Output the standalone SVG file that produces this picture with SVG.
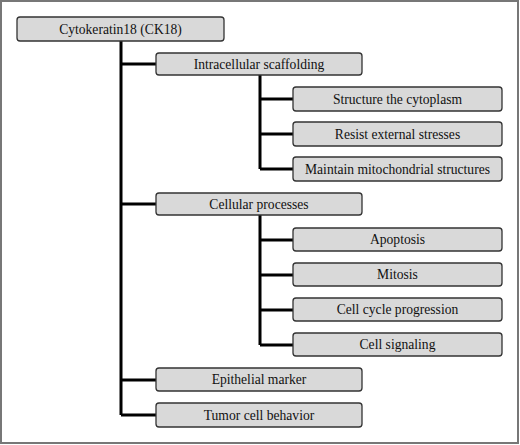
<svg xmlns="http://www.w3.org/2000/svg" width="520" height="445" viewBox="0 0 520 445">
<style>
.box{fill:#d9d9d9;stroke:#333;stroke-width:1.3}
.t{font-family:"Liberation Serif","Times New Roman",serif;font-size:13.6px;fill:#111;text-anchor:middle;dominant-baseline:central}
.c{stroke:#000;stroke-width:3;fill:none}
</style>
<rect x="0" y="0" width="520" height="445" fill="#fff"/>
<rect x="1" y="1" width="517" height="442" fill="none" stroke="#777" stroke-width="2"/>
<g id="connectors">
<path class="c" d="M121 41V415M121 64H156M121 204H156M121 380H156M121 415H156"/>
<path class="c" d="M260 75V169M260 99H293M260 134H293M260 169H293"/>
<path class="c" d="M260 215V345M260 240H293M260 275H293M260 310H293M260 345H293"/>
</g>
<g id="n-root"><rect class="box" x="17" y="17" width="207" height="24" rx="3"/><text class="t" x="120.5" y="29">Cytokeratin18 (CK18)</text></g>
<g id="n-scaffold"><rect class="box" x="156" y="53" width="206" height="22" rx="3"/><text class="t" x="259" y="64">Intracellular scaffolding</text></g>
<g id="n-structure"><rect class="box" x="293" y="87" width="209" height="24" rx="3"/><text class="t" x="397.5" y="99">Structure the cytoplasm</text></g>
<g id="n-resist"><rect class="box" x="293" y="122" width="209" height="24" rx="3"/><text class="t" x="397.5" y="134">Resist external stresses</text></g>
<g id="n-maintain"><rect class="box" x="293" y="157" width="209" height="24" rx="3"/><text class="t" x="397.5" y="169">Maintain mitochondrial structures</text></g>
<g id="n-cellular"><rect class="box" x="156" y="193" width="206" height="22" rx="3"/><text class="t" x="259" y="204">Cellular processes</text></g>
<g id="n-apoptosis"><rect class="box" x="293" y="228" width="209" height="23" rx="3"/><text class="t" x="397.5" y="239.5">Apoptosis</text></g>
<g id="n-mitosis"><rect class="box" x="293" y="263" width="209" height="23" rx="3"/><text class="t" x="397.5" y="274.5">Mitosis</text></g>
<g id="n-cycle"><rect class="box" x="293" y="298" width="209" height="23" rx="3"/><text class="t" x="397.5" y="309.5">Cell cycle progression</text></g>
<g id="n-signaling"><rect class="box" x="293" y="333" width="209" height="23" rx="3"/><text class="t" x="397.5" y="344.5">Cell signaling</text></g>
<g id="n-epithelial"><rect class="box" x="156" y="368" width="206" height="23" rx="3"/><text class="t" x="259" y="379.5">Epithelial marker</text></g>
<g id="n-tumor"><rect class="box" x="156" y="403" width="206" height="24" rx="3"/><text class="t" x="259" y="415">Tumor cell behavior</text></g>
</svg>
